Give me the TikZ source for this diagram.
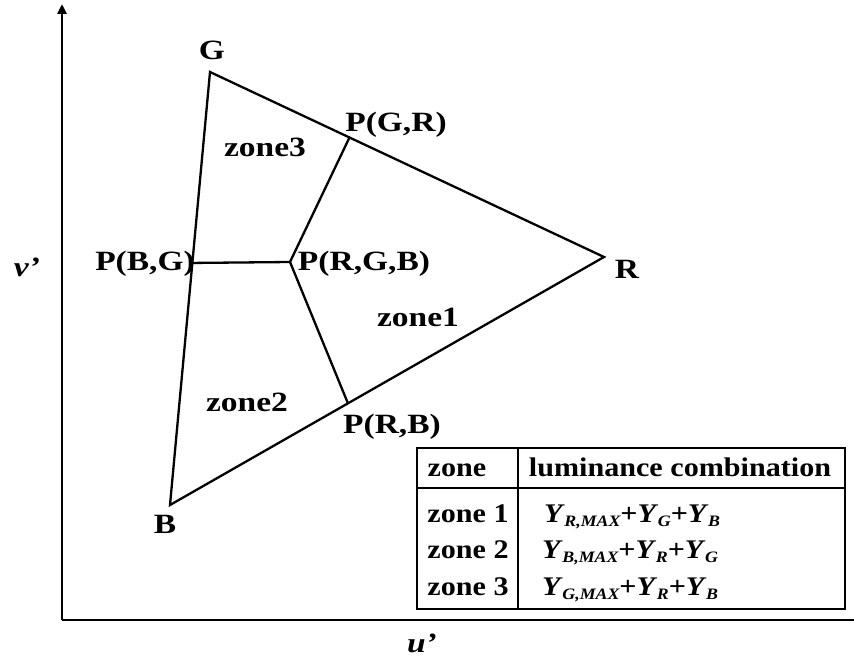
\documentclass[tikz,border=0pt]{standalone}
\usepackage{fontspec}
\setmainfont{Liberation Serif}[FakeStretch=1.2]
\newfontfamily\tabelfont{Liberation Serif}[FakeStretch=1.12]
\usetikzlibrary{arrows.meta, positioning, calc}

\newcommand{\lumY}[1]{\textit{Y}\kern-0.5bp\raisebox{-0.35ex}{\fontsize{16}{16}\selectfont\itshape #1}}

\begin{document}
\begin{tikzpicture}[
    x=1bp, y=-1bp,
    teks/.style={font=\fontsize{28}{30}\selectfont\bfseries, inner sep=0pt, anchor=base},
    sisi/.style={line width=2.3bp, line join=miter},
    sumbu/.style={line width=2.5bp},
    sel/.style={font=\tabelfont\fontsize{27}{29}\selectfont\bfseries, inner sep=0pt, anchor=base}
  ]
    \useasboundingbox (0,0) rectangle (854,660);
    % sumbu
    \coordinate (o) at (62,620);
    \coordinate (ytop) at (62,4);
    \coordinate (xend) at (854,620);
    \draw[sumbu, -{Triangle[length=10bp,width=9bp]}] (o) -- (ytop);
    \draw[sumbu] (o) -- (xend);
    \node[teks, font=\fontsize{28}{30}\selectfont\bfseries\itshape] (v) at (27,276) {v’};
    \node[teks, font=\fontsize{28}{30}\selectfont\bfseries\itshape] (u) at (422,652) {u’};

    % segitiga
    \coordinate (G) at (210,72);
    \coordinate (R) at (604,257);
    \coordinate (B) at (170,505);
    \coordinate (pgr) at ($(G)!0.354!(R)$);
    \coordinate (prb) at ($(R)!0.59!(B)$);
    \coordinate (pbg) at ($(B)!0.559!(G)$);
    \coordinate (prgb) at (290,262);
    \draw[sisi] (G) -- (R) -- (B) -- cycle;
    \draw[sisi] (pbg) -- (prgb);
    \draw[sisi] (prgb) -- (pgr);
    \draw[sisi] (prgb) -- (prb);

    \node[teks] (lG) at (212,60) {G};
    \node[teks] (lR) at (627,278) {R};
    \node[teks] (lB) at (165,533) {B};
    \node[teks] (lpgr) at (396,132) {P(G,R)};
    \node[teks] (lprb) at (392,433) {P(R,B)};
    \node[teks] (lpbg) at (145,270) {P(B,G)};
    \node[teks] (lprgb) at (364,270) {P(R,G,B)};
    \node[teks] (z3) at (265,157) {zone3};
    \node[teks] (z1) at (418,326) {zone1};
    \node[teks] (z2) at (247,411) {zone2};

    % tabel
    \draw[line width=1.3bp] (417,448) rectangle (845,609);
    \draw[line width=1.3bp] (417,488) -- (845,488);
    \draw[line width=1.3bp] (518,448) -- (518,609);
    \node[sel] (hz) at (457,476) {zone};
    \node[sel] (hl) at (680,476) {luminance combination};
    \node[sel] (r1) at (468,522) {zone 1};
    \node[sel] (r2) at (468,558) {zone 2};
    \node[sel] (r3) at (468,595) {zone 3};
    \node[sel, anchor=base west] (f1) at (544,522) {\lumY{R,MAX}+\lumY{G}+\lumY{B}};
    \node[sel, anchor=base west] (f2) at (542,558) {\lumY{B,MAX}+\lumY{R}+\lumY{G}};
    \node[sel, anchor=base west] (f3) at (542,595) {\lumY{G,MAX}+\lumY{R}+\lumY{B}};
\end{tikzpicture}
\end{document}
